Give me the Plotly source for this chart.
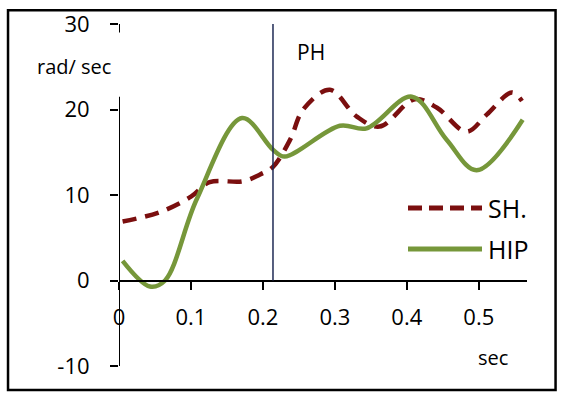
import plotly.graph_objects as go

# ---- data ----
sh_t = [0.005, 0.057, 0.10, 0.126, 0.172, 0.196, 0.214, 0.238, 0.256, 0.293,
        0.33, 0.362, 0.411, 0.442, 0.483, 0.511, 0.546, 0.56]
sh_v = [6.9, 8.0, 9.8, 11.5, 11.6, 12.4, 13.3, 16.5, 20.0, 22.3,
        19.2, 18.0, 21.2, 20.2, 17.4, 19.4, 22.0, 21.0]

hip_t = [0.005, 0.043, 0.064, 0.108, 0.171, 0.214, 0.23, 0.307, 0.344,
         0.407, 0.455, 0.497, 0.561]
hip_v = [2.3, -0.7, 0.0, 9.5, 19.0, 15.3, 14.5, 18.1, 17.8,
         21.5, 16.5, 12.9, 18.8]

x_ticks = [0, 0.1, 0.2, 0.3, 0.4, 0.5]
x_tick_labels = ["0", "0.1", "0.2", "0.3", "0.4", "0.5"]
y_ticks = [-10, 0, 10, 20, 30]
y_tick_labels = ["-10", "0", "10", "20", "30"]
ph_time = 0.214

SH_COLOR = "#7B0F0F"
HIP_COLOR = "#76973A"
FONT = "Open Sans"

fig = go.Figure()
fig.add_trace(go.Scatter(x=sh_t, y=sh_v, name="SH.", mode="lines",
                         line=dict(color=SH_COLOR, width=4.5, dash="14px,9px",
                                   shape="spline", smoothing=1.0),
                         showlegend=False))
fig.add_trace(go.Scatter(x=hip_t, y=hip_v, name="HIP", mode="lines",
                         line=dict(color=HIP_COLOR, width=4.5,
                                   shape="spline", smoothing=1.0),
                         showlegend=False))

shapes = []
# y axis line with gap for unit label
shapes.append(dict(type="line", xref="x", yref="y", x0=0, x1=0, y0=-10, y1=21.5,
                   line=dict(color="black", width=2)))
shapes.append(dict(type="line", xref="x", yref="y", x0=0, x1=0, y0=29.0, y1=30,
                   line=dict(color="black", width=2)))
# PH vertical line
shapes.append(dict(type="line", xref="x", yref="y", x0=ph_time, x1=ph_time, y0=0, y1=30.3,
                   line=dict(color="#1F2A55", width=1.5)))
# outer frame
shapes.append(dict(type="rect", xref="paper", yref="paper",
                   x0=-0.272, x1=1.07, y0=-0.07, y1=1.04,
                   line=dict(color="black", width=2.5)))
# manual legend lines
shapes.append(dict(type="line", xref="paper", yref="paper",
                   x0=(408 - 119) / 408, x1=(482 - 119) / 408,
                   y0=(366 - 208) / 342, y1=(366 - 208) / 342,
                   line=dict(color=SH_COLOR, width=5, dash="14px,7px")))
shapes.append(dict(type="line", xref="paper", yref="paper",
                   x0=(408 - 119) / 408, x1=(482 - 119) / 408,
                   y0=(366 - 249) / 342, y1=(366 - 249) / 342,
                   line=dict(color=HIP_COLOR, width=5)))

annotations = [
    dict(text="PH", x=(311 - 119) / 408, y=(366 - 52) / 342, xref="paper", yref="paper",
         showarrow=False, font=dict(family=FONT, size=21, color="black"),
         xanchor="center", yanchor="middle"),
    dict(text="rad/ sec", x=(74 - 119) / 408, y=(366 - 66) / 342, xref="paper", yref="paper",
         showarrow=False, font=dict(family=FONT, size=20, color="black"),
         xanchor="center", yanchor="middle"),
    dict(text="sec", x=(493 - 119) / 408, y=(366 - 357) / 342, xref="paper", yref="paper",
         showarrow=False, font=dict(family=FONT, size=20, color="black"),
         xanchor="center", yanchor="middle"),
    dict(text="SH.", x=(486 - 119) / 408, y=(366 - 208) / 342, xref="paper", yref="paper",
         showarrow=False, font=dict(family=FONT, size=25, color="black"),
         xanchor="left", yanchor="middle"),
    dict(text="HIP", x=(486 - 119) / 408, y=(366 - 249) / 342, xref="paper", yref="paper",
         showarrow=False, font=dict(family=FONT, size=25, color="black"),
         xanchor="left", yanchor="middle"),
]

fig.update_layout(
    width=562, height=397,
    margin=dict(l=119, r=35, t=24, b=31),
    paper_bgcolor="white", plot_bgcolor="white",
    font=dict(family=FONT, size=22, color="black"),
    shapes=shapes, annotations=annotations,
    xaxis=dict(range=[0, 0.567], tickvals=x_ticks, ticktext=x_tick_labels,
               showgrid=False, zeroline=False, showline=True, linecolor="black",
               linewidth=2, ticks="outside", ticklen=8, tickwidth=2, tickcolor="black",
               anchor="free", position=0.25, ticklabelstandoff=9, automargin=False),
    yaxis=dict(range=[-10, 30], tickvals=y_ticks, ticktext=y_tick_labels,
               showgrid=False, zeroline=False, showline=False,
               ticks="outside", ticklen=8, tickwidth=2, tickcolor="black",
               ticklabelstandoff=16, automargin=False),
)

fig.write_html("out.html", config={"displayModeBar": False},
               post_script="document.body.style.margin='0';document.body.style.overflow='hidden';")
